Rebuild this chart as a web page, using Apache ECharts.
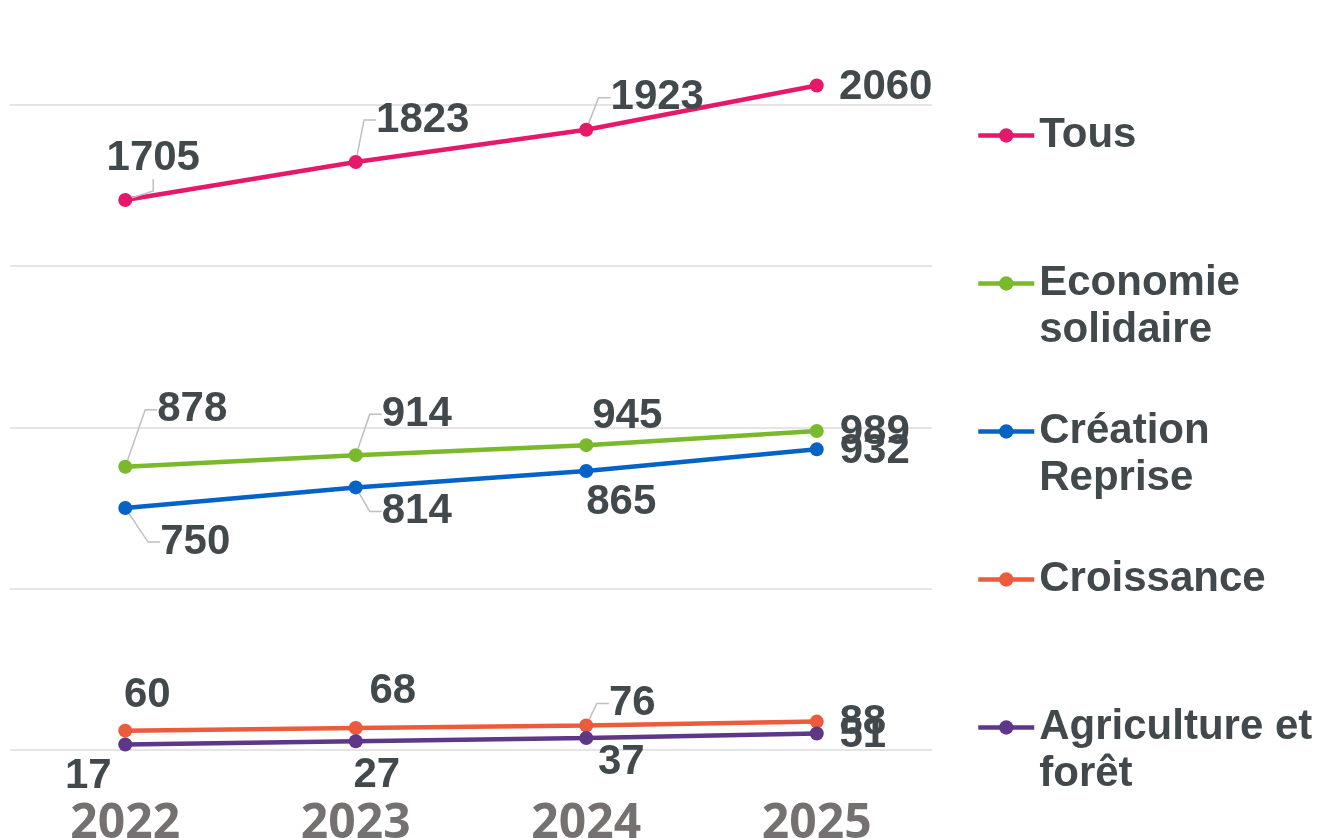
<!DOCTYPE html>
<html><head><meta charset="utf-8">
<script src="https://cdn.jsdelivr.net/npm/echarts@6/dist/echarts.min.js"></script>
<style>html,body{margin:0;padding:0;background:#fff}#c{width:1319px;height:838px}</style>
</head><body><div id="c"></div>
<script>
// ---- data ----
const categories = ['2022', '2023', '2024', '2025'];
const seriesNames = ['Tous', 'Economie solidaire', 'Création Reprise', 'Croissance', 'Agriculture et forêt'];
const tous = [1705, 1823, 1923, 2060];
const economieSolidaire = [878, 914, 945, 989];
const creationReprise = [750, 814, 865, 932];
const croissance = [60, 68, 76, 88];
const agricultureForet = [17, 27, 37, 51];
const legendLabels = ['Tous', 'Economie\nsolidaire', 'Création\nReprise', 'Croissance', 'Agriculture et\nforêt'];

// ---- layout / style ----
const colors = ['#e6186a', '#7ab82c', '#0563c8', '#eb5b3c', '#5f3788'];
const labelOffsets = [
  [[28, -42], [67, -42], [71, -32], [69, 2]],
  [[67, -57], [61, -41], [41, -29], [58, 1]],
  [[70, 34], [61, 24], [35, 31], [58, 2]],
  [[22, -35], [37, -37], [46, -22], [46, 1]],
  [[-37, 32], [21, 34], [35, 24], [46, 2]]
];
const leaderLines = [
  [true, true, true, false],
  [true, true, false, false],
  [true, true, false, false],
  [false, false, true, false],
  [false, false, false, false]
];

const allValues = [tous, economieSolidaire, creationReprise, croissance, agricultureForet];
const textColor = '#42494c';

const series = allValues.map((vals, si) => ({
  name: seriesNames[si],
  type: 'line',
  data: vals.map((v, di) => ({ value: v, labelLine: { show: leaderLines[si][di] } })),
  symbol: 'circle',
  symbolSize: 14,
  lineStyle: { width: 4.5, color: colors[si] },
  itemStyle: { color: colors[si] },
  label: {
    show: true,
    position: 'inside',
    fontFamily: 'Liberation Sans, Arial, sans-serif',
    fontWeight: 'bold',
    fontSize: 42,
    color: textColor
  },
  labelLine: {
    show: false,
    length2: 12,
    smooth: false,
    lineStyle: { color: '#bfbfbf', width: 1.5 }
  },
  labelLayout: function (params) {
    const o = labelOffsets[params.seriesIndex][params.dataIndex];
    return { dx: o[0], dy: o[1] };
  },
  emphasis: { disabled: true }
}));

const chart = echarts.init(document.getElementById('c'));
chart.setOption({
  animation: false,
  color: colors,
  grid: { left: 10, right: 387, top: 0, bottom: 88, containLabel: false, outerBoundsMode: 'none' },
  xAxis: {
    type: 'category',
    data: categories,
    boundaryGap: true,
    axisLine: { show: false },
    axisTick: { show: false },
    axisLabel: {
      margin: 50,
      fontFamily: 'Open Sans, sans-serif',
      fontWeight: 'bold',
      fontSize: 48,
      lineHeight: 48,
      color: '#767171'
    }
  },
  yAxis: {
    type: 'value',
    min: 0,
    max: 2325,
    interval: 500,
    axisLabel: { show: false },
    axisLine: { show: false },
    axisTick: { show: false },
    splitLine: { showMaxLine: false, lineStyle: { color: '#dcdcdc', width: 1.5 } }
  },
  legend: {
    orient: 'vertical',
    left: 976,
    top: 65,
    padding: 0,
    itemGap: 7,
    itemWidth: 56,
    itemHeight: 18,
    data: seriesNames,
    lineStyle: { width: 4.5 },
    formatter: function (name) {
      const t = legendLabels[seriesNames.indexOf(name)];
      return '\n' + t + (t.indexOf('\n') < 0 ? '\n' : '');
    },
    textStyle: {
      fontFamily: 'Liberation Sans, Arial, sans-serif',
      fontWeight: 'bold',
      fontSize: 42,
      lineHeight: 47,
      color: textColor
    },
    selectedMode: false
  },
  series: series
});
</script>
</body></html>
